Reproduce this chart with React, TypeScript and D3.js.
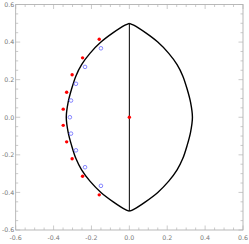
import React from 'react';
import * as d3 from 'd3';

// --- data ---
// left half of the lens boundary, top to bottom (x, y); right half is its mirror
const boundaryY = [0.5, 0.49, 0.45, 0.4, 0.34, 0.28, 0.22, 0.15, 0.08, 0, -0.08, -0.15, -0.22, -0.28, -0.34, -0.4, -0.45, -0.49, -0.5];
const boundaryX = [0, -0.023, -0.085, -0.15, -0.208, -0.252, -0.282, -0.305, -0.323, -0.333, -0.323, -0.305, -0.282, -0.252, -0.208, -0.15, -0.085, -0.023, 0];

const redX = [-0.159, -0.247, -0.302, -0.331, -0.349, -0.349, -0.331, -0.302, -0.247, -0.159, 0];
const redY = [0.415, 0.316, 0.226, 0.133, 0.043, -0.043, -0.131, -0.221, -0.314, -0.413, 0];

const blueX = [-0.15, -0.234, -0.282, -0.308, -0.314, -0.308, -0.282, -0.234, -0.15];
const blueY = [0.367, 0.268, 0.178, 0.089, 0, -0.087, -0.176, -0.266, -0.365];

const majorTicks = [-0.6, -0.4, -0.2, 0, 0.2, 0.4, 0.6];
const minorTicks = d3.range(-0.6, 0.6001, 0.05).map(v => +v.toFixed(2));

const W = 249, H = 244;
const frame = { left: 15.7, right: 243, top: 4.5, bottom: 230 };

function fmt(v: number) {
  const s = Math.abs(v).toFixed(1);
  return v < -1e-9 ? '-' + s : s;
}

export default function App() {
  const x = d3.scaleLinear().domain([-0.6, 0.6]).range([frame.left, frame.right]);
  const y = d3.scaleLinear().domain([-0.6, 0.6]).range([frame.bottom, frame.top]);

  const line = d3.line<[number, number]>().x(d => x(d[0])).y(d => y(d[1])).curve(d3.curveCatmullRom);
  const left: [number, number][] = boundaryX.map((v, i) => [v, boundaryY[i]]);
  const right: [number, number][] = boundaryX.map((v, i) => [-v, boundaryY[i]]);

  const grey = '#a8a8a8';
  const tickCol = '#b4b4b4';
  const labelCol = '#7a7a7a';

  const ticks: JSX.Element[] = [];
  minorTicks.forEach((t, i) => {
    const major = majorTicks.some(m => Math.abs(m - t) < 1e-6);
    const len = major ? 4.5 : 2.5;
    const px = x(t), py = y(t);
    ticks.push(<line key={'b' + i} x1={px} x2={px} y1={frame.bottom} y2={frame.bottom - len} stroke={tickCol} strokeWidth={0.7} />);
    ticks.push(<line key={'t' + i} x1={px} x2={px} y1={frame.top} y2={frame.top + len} stroke={tickCol} strokeWidth={0.7} />);
    ticks.push(<line key={'l' + i} x1={frame.left} x2={frame.left + len} y1={py} y2={py} stroke={tickCol} strokeWidth={0.7} />);
    ticks.push(<line key={'r' + i} x1={frame.right} x2={frame.right - len} y1={py} y2={py} stroke={tickCol} strokeWidth={0.7} />);
  });

  return (
    <svg width={W} height={H} viewBox={`0 0 ${W} ${H}`}
      style={{ position: 'absolute', left: 0, top: 0, background: '#fff' }}
      fontFamily="'DejaVu Sans', sans-serif">
      <rect x={frame.left} y={frame.top} width={frame.right - frame.left} height={frame.bottom - frame.top}
        fill="none" stroke={grey} strokeWidth={0.8} />
      {ticks}
      {majorTicks.map((t, i) => (
        <text key={'xl' + i} x={x(t)} y={frame.bottom + 10} fontSize={6.3} fill={labelCol} textAnchor="middle">{fmt(t)}</text>
      ))}
      {majorTicks.map((t, i) => (
        <text key={'yl' + i} x={frame.left - 1.5} y={y(t) + 2.3} fontSize={6.3} fill={labelCol} textAnchor="end">{fmt(t)}</text>
      ))}

      <line x1={x(0)} x2={x(0)} y1={y(0.5)} y2={y(-0.5)} stroke="#000" strokeWidth={1} />
      <path d={line(left) || ''} fill="none" stroke="#000" strokeWidth={1.4} />
      <path d={line(right) || ''} fill="none" stroke="#000" strokeWidth={1.4} />

      {blueX.map((v, i) => (
        <circle key={'bl' + i} cx={x(v)} cy={y(blueY[i])} r={1.8} fill="none" stroke="#7878ff" strokeWidth={0.9} />
      ))}
      {redX.map((v, i) => (
        <circle key={'rd' + i} cx={x(v)} cy={y(redY[i])} r={1.7} fill="#ff0000" />
      ))}
    </svg>
  );
}
